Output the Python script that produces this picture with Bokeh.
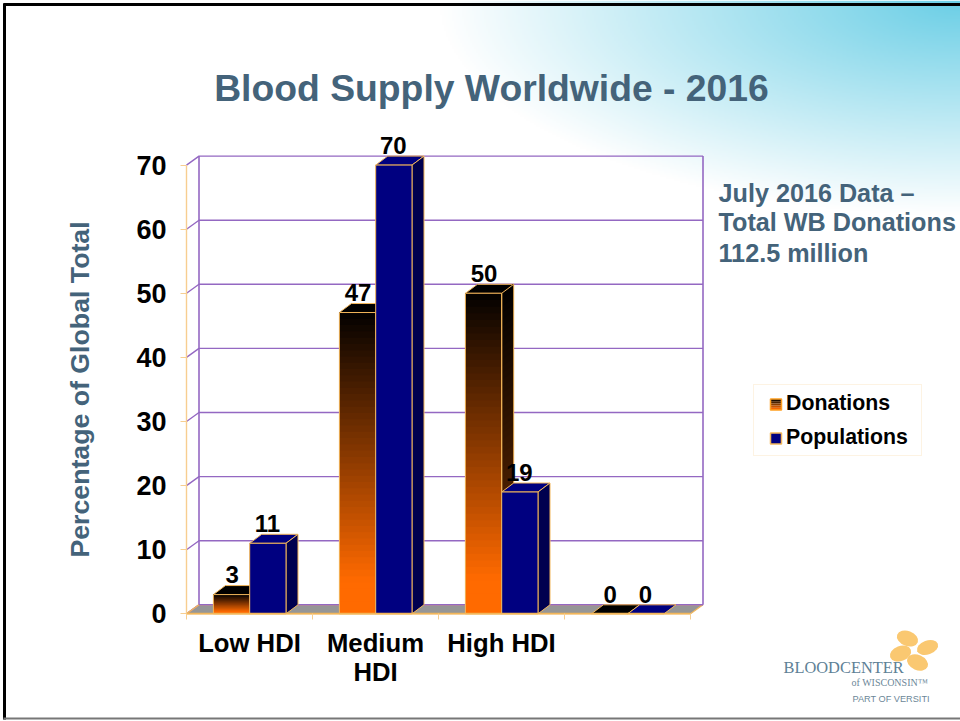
import numpy as np
from bokeh.core.properties import value
from bokeh.embed import file_html
from bokeh.models import FixedTicker, Legend, LegendItem, LinearAxis, Range1d
from bokeh.plotting import figure
from bokeh.resources import INLINE

categories = ["Low HDI", "Medium\nHDI", "High HDI", " "]
donations = [3, 47, 50, 0]
populations = [11, 70, 19, 0]
y_ticks = [0, 10, 20, 30, 40, 50, 60, 70]

title_text = "Blood Supply Worldwide - 2016"
y_title = "Percentage of Global Total"
note_lines = ["July 2016 Data \u2013", "Total WB Donations", "112.5 million"]

FONT = "Liberation Sans"
SLATE = "#44637A"
PURPLE = "#9468C2"
EDGE = "#F2B65A"
AXIS_TAN = "#F7CE90"

PX_PER_CAT = 126.0
PX_PER_UNIT = 6.41
X0, Y0 = 186.0, 613.3
BASE = 0.36  # raises alphabetic text onto its baseline in the svg output


def X(px):
    return (np.asarray(px, dtype=float) - X0) / PX_PER_CAT


def Y(py):
    return (Y0 - np.asarray(py, dtype=float)) / PX_PER_UNIT


W, H = 960, 721
p = figure(width=W, height=H, output_backend="svg", toolbar_location=None,
           x_range=Range1d(float(X(0)), float(X(W))),
           y_range=Range1d(float(Y(H)), float(Y(0))),
           min_border=0, outline_line_color=None, background_fill_color="white",
           border_fill_color="white", x_axis_type=None, y_axis_type=None)
p.grid.visible = False

# soft corner wash behind the title
iw, ih = W // 2, 120
xx = np.linspace(0, W, iw)
yy = np.linspace(240, 0, ih)
gx, gy = np.meshgrid(xx, yy)
t = np.clip(1 - np.sqrt(((960 - gx) / 520) ** 2 + (gy / 215) ** 2), 0, 1)
rgba = np.zeros((ih, iw, 4), dtype=np.uint8)
for i, c in enumerate((0x6C, 0xCF, 0xE6)):
    rgba[..., i] = (255 * (1 - t) + c * t).astype(np.uint8)
rgba[..., 3] = 255
p.image_rgba(image=[rgba.view(np.uint32).reshape(ih, iw)], x=float(X(0)), y=float(Y(240)),
             dw=float(X(W) - X(0)), dh=float(Y(0) - Y(240)))

# slide frame
p.line(X([4, 4]), Y([3, 719]), line_color="black", line_width=3)
p.line(X([3, 960]), Y([4, 4]), line_color="black", line_width=3)
p.line(X([3, 960]), Y([718, 718]), line_color="#777777", line_width=2)

# 3D walls and floor
n_cat = len(categories)
WALL_X = 12.5 / PX_PER_CAT
WALL_Y = 9.0 / PX_PER_UNIT
p.patch([0, WALL_X, n_cat + WALL_X, n_cat], [0, WALL_Y, WALL_Y, 0],
        fill_color="#969696", line_color=EDGE, line_width=1.2)
for v in y_ticks:
    p.line([0, WALL_X, n_cat + WALL_X], [v, v + WALL_Y, v + WALL_Y], line_color=PURPLE, line_width=1.4)
p.line([WALL_X, WALL_X], [WALL_Y, 70 + WALL_Y], line_color=PURPLE, line_width=1.6)
p.line([n_cat + WALL_X] * 2, [WALL_Y, 70 + WALL_Y], line_color=PURPLE, line_width=1.6)
p.line([0, WALL_X], [0, WALL_Y], line_color=EDGE, line_width=1.2)

GAP = 26.9 / PX_PER_CAT
BAR = 36.3 / PX_PER_CAT
DX = 12.0 / PX_PER_CAT
DY = 9.0 / PX_PER_UNIT
ORANGE = np.array([255, 106, 0])
SLICES = 48


def blend(frac, scale=1.0):
    # frac: 0 at the foot of the bar, 1 at its top
    c = ORANGE * np.clip((1 - frac) / 0.9, 0, 1) * scale
    return "#%02x%02x%02x" % tuple(int(a) for a in c)


# donations: top, shaded side, gradient front
for i, v in enumerate(donations):
    left = i + GAP
    right = left + BAR
    p.patch([left, left + DX, right + DX, right], [v, v + DY, v + DY, v],
            fill_color="black", line_color=EDGE, line_width=1)
    if v > 0:
        edges = np.linspace(0, v, SLICES + 1)[:-1]
        p.patches([[right, right + DX, right + DX, right] for _ in edges],
                  [[a, a + DY, v + DY, v] for a in edges],
                  fill_color=[blend(k / SLICES, 0.4) for k in range(SLICES)], line_color=None)
        p.quad(left=left, right=right, bottom=edges, top=v,
               fill_color=[blend(k / SLICES) for k in range(SLICES)], line_color=None)
        p.patch([right, right + DX, right + DX, right], [0, DY, v + DY, v],
                fill_color=None, line_color=EDGE, line_width=1)
        p.quad(left=left, right=right, bottom=0, top=v, fill_color=None, line_color=EDGE, line_width=1)

# populations
for i, v in enumerate(populations):
    left = i + GAP + BAR
    right = left + BAR
    p.patch([left, left + DX, right + DX, right], [v, v + DY, v + DY, v],
            fill_color="#000080", line_color=EDGE, line_width=1)
    if v > 0:
        p.patch([right, right + DX, right + DX, right], [0, DY, v + DY, v],
                fill_color="#00004F", line_color=EDGE, line_width=1)
        p.quad(left=left, right=right, bottom=0, top=v, fill_color="#000080", line_color=EDGE, line_width=1)

# value labels
label_x = [i + GAP + BAR / 2 + DX / 2 - 5.5 / PX_PER_CAT for i in range(n_cat)]
p.text(label_x, [v + DY for v in donations], text=[str(v) for v in donations], text_align="center",
       text_baseline="alphabetic", y_offset=-24 * BASE - 2, text_font=value(FONT), text_font_style="bold",
       text_font_size="24px", text_color="black")
label_x2 = [x + BAR - 1 / PX_PER_CAT for x in label_x]
p.text(label_x2, [v + DY for v in populations], text=[str(v) for v in populations], text_align="center",
       text_baseline="alphabetic", y_offset=-24 * BASE - 2, text_font=value(FONT), text_font_style="bold",
       text_font_size="24px", text_color="black")

# axes
yax = LinearAxis(fixed_location=0, ticker=FixedTicker(ticks=y_ticks), bounds=(0, 70))
yax.axis_label = y_title
yax.axis_label_text_font = FONT
yax.axis_label_text_font_style = "bold"
yax.axis_label_text_font_size = "26.7px"
yax.axis_label_text_color = SLATE
yax.axis_label_standoff = 38
yax.major_label_text_font = FONT
yax.major_label_text_font_style = "bold"
yax.major_label_text_font_size = "27px"
yax.major_label_text_color = "black"
yax.major_label_standoff = 14
yax.axis_line_color = AXIS_TAN
yax.axis_line_width = 1.4
yax.major_tick_line_color = AXIS_TAN
yax.major_tick_out = 6
yax.major_tick_in = 0
yax.minor_tick_line_color = None
p.add_layout(yax, "left")

xax = LinearAxis(fixed_location=0, bounds=(0, n_cat),
                 ticker=FixedTicker(ticks=[i + 0.5 for i in range(n_cat)], minor_ticks=list(range(n_cat + 1))))
xax.major_label_overrides = {i + 0.5: c for i, c in enumerate(categories)}
xax.major_label_text_font = FONT
xax.major_label_text_font_style = "bold"
xax.major_label_text_font_size = "25.7px"
xax.major_label_text_color = "black"
xax.major_label_text_line_height = 1.05
xax.major_label_standoff = 9
xax.axis_line_color = EDGE
xax.axis_line_width = 1.4
xax.major_tick_line_color = None
xax.minor_tick_line_color = AXIS_TAN
xax.minor_tick_out = 6
xax.minor_tick_in = 0
p.add_layout(xax, "below")

# title and side note
p.text([float(X(491))], [float(Y(101))], text=[title_text], text_align="center", text_baseline="alphabetic",
       y_offset=-37.3 * BASE, text_font=value(FONT), text_font_style="bold", text_font_size="37.3px",
       text_color=SLATE)
p.text([float(X(718))] * 3, Y([202, 231, 262]).tolist(), text=note_lines, text_baseline="alphabetic",
       y_offset=-25.2 * BASE, text_font=value(FONT), text_font_style="bold", text_font_size="25.2px",
       text_color=SLATE)

# legend: real entries, transparent box, swatches painted beneath it
r_don = p.scatter(x=[-100], y=[0], marker="square", fill_alpha=0, line_alpha=0)
r_pop = p.scatter(x=[-100], y=[0], marker="square", fill_alpha=0, line_alpha=0)
legend = Legend(items=[LegendItem(label="Donations", renderers=[r_don]),
                       LegendItem(label="Populations", renderers=[r_pop])],
                location=(753, 265), orientation="vertical", padding=3, margin=0, spacing=4,
                glyph_width=29, glyph_height=30, label_standoff=0, label_width=132, label_height=30,
                label_text_font=FONT, label_text_font_style="bold", label_text_font_size="21.3px",
                label_text_color="black", border_line_color="#FBE8C8", border_line_width=1,
                background_fill_alpha=0)
p.add_layout(legend, "center")

sw_edges = np.linspace(398.5, 409.5, 6)
p.quad(left=float(X(770)), right=float(X(781)), top=Y(sw_edges[:-1]), bottom=Y(sw_edges[1:]),
       fill_color=["#1a0d00", "#4a2200", "#8a3e00", "#c85400", "#f56500"], line_color=None)
p.quad(left=float(X(770)), right=float(X(781)), top=float(Y(398.5)), bottom=float(Y(409.5)),
       fill_color=None, line_color="#FFA020", line_width=1.5)
p.quad(left=float(X(770)), right=float(X(781)), top=float(Y(432.5)), bottom=float(Y(443.5)),
       fill_color="#000080", line_color="#F2B65A", line_width=1.5)

# logo
p.ellipse(X([907, 927, 900, 917]), Y([638, 647, 653, 662]), width=[22, 22, 22, 22], height=[15, 14, 15, 15],
          angle=[-0.35, 0.35, 0.35, -0.4], width_units="screen", height_units="screen",
          fill_color="#FAC871", line_color=None)
p.text([float(X(783))], [float(Y(673))], text=["BLOODCENTER"], text_baseline="alphabetic",
       y_offset=-16 * BASE, text_font=value("Liberation Serif"), text_font_size="16.4px", text_color="#5E8196")
p.text([float(X(851))], [float(Y(686))], text=["of WISCONSIN\u2122"], text_baseline="alphabetic",
       y_offset=-10 * BASE, text_font=value("Liberation Serif"), text_font_size="10px", text_color="#6C8798")
p.text([float(X(852))], [float(Y(702))], text=["PART OF VERSITI"], text_baseline="alphabetic",
       y_offset=-9.2 * BASE, text_font=value("Liberation Sans"), text_font_size="9.2px", text_color="#6C8798")

open("out.html", "w").write(file_html(p, INLINE))
